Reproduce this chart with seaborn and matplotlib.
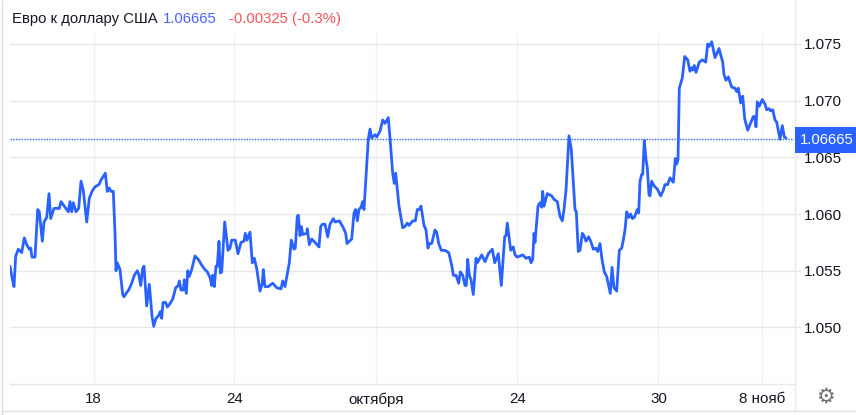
import matplotlib
matplotlib.use('Agg')
import matplotlib.pyplot as plt
from matplotlib.lines import Line2D
from matplotlib.patches import Rectangle
import numpy as np
import seaborn as sns

title_name = 'Евро к доллару США'
last_price = 1.06665
change_text = '-0.00325 (-0.3%)'

# bar number / price
bars_a = [0, 2, 4, 5.7, 8.3, 11.7, 14.3, 16.7, 19.3, 20.7,
          22, 25, 27.7, 29.3, 32.3, 34, 36.7, 39, 40.7, 44,
          49.3, 51, 55, 58.3, 60, 61.7, 63.3, 66, 68.7, 71,
          73.3, 76.7, 79.3, 82, 85, 89, 91, 95.3, 97.3, 99.3,
          101, 103.3, 105, 106, 107.3, 110, 112.7, 114, 116, 118.7,
          121.7, 124.3, 127.3, 128.7, 130.7, 132.7, 134, 136.7, 139.3, 142,
          143.7, 146, 148.3, 150.3, 151.7, 153, 155.7, 157.3, 160, 162.7]
price_a = [1.0554, 1.0544, 1.0536, 1.0563, 1.0569, 1.0566, 1.0579, 1.0573, 1.0569, 1.0570,
           1.0562, 1.0562, 1.0604, 1.0602, 1.0576, 1.0593, 1.0597, 1.0618, 1.0596, 1.0605,
           1.0605, 1.0611, 1.0606, 1.0602, 1.0611, 1.0602, 1.0610, 1.0602, 1.0605, 1.0629,
           1.0621, 1.0593, 1.0614, 1.0620, 1.0624, 1.0626, 1.0630, 1.0636, 1.0620, 1.0623,
           1.0620, 1.0620, 1.0583, 1.0550, 1.0557, 1.0551, 1.0529, 1.0527, 1.0530, 1.0533,
           1.0539, 1.0546, 1.0550, 1.0547, 1.0537, 1.0552, 1.0554, 1.0519, 1.0538, 1.0510,
           1.0501, 1.0508, 1.0510, 1.0514, 1.0508, 1.0522, 1.0522, 1.0518, 1.0521, 1.0525]

bars_b = [165.7, 168.3, 169.3, 171, 173.3, 174.3, 176.3, 177.7, 179.3, 181.7,
          185, 188.3, 191.7, 194, 197.3, 200, 201.7, 202.7, 204.3, 206,
          207.3, 209, 210.3, 211.7, 214.7, 218, 220, 221.7, 225.3, 228,
          231, 234, 235.3, 237, 240, 242.3, 244.3, 246.7, 250, 252.3,
          253.3, 255, 258.3, 262.7, 266.7, 271, 272.7, 275, 279.3, 281.3,
          284, 285.3, 287.3, 288.3, 290, 291.3, 292.7, 296.7, 297.3, 299.3,
          301.7, 305, 309, 310.7, 312.3, 315, 317.7, 320, 323.3, 325]
price_b = [1.0535, 1.0537, 1.0541, 1.0533, 1.0533, 1.0542, 1.0530, 1.0550, 1.0545, 1.0551,
           1.0563, 1.0560, 1.0555, 1.0552, 1.0549, 1.0544, 1.0537, 1.0546, 1.0536, 1.0554,
           1.0554, 1.0576, 1.0548, 1.0549, 1.0593, 1.0568, 1.0570, 1.0577, 1.0577, 1.0565,
           1.0575, 1.0576, 1.0583, 1.0577, 1.0584, 1.0557, 1.0561, 1.0552, 1.0532, 1.0539,
           1.0551, 1.0536, 1.0536, 1.0539, 1.0535, 1.0534, 1.0541, 1.0536, 1.0557, 1.0577,
           1.0569, 1.0570, 1.0598, 1.0599, 1.0581, 1.0589, 1.0582, 1.0583, 1.0587, 1.0573,
           1.0578, 1.0575, 1.0571, 1.0589, 1.0591, 1.0591, 1.0580, 1.0591, 1.0596, 1.0593]

bars_c = [329.3, 333.3, 335.7, 337, 341.7, 344, 345.7, 347.3, 349, 351,
          352.7, 354, 358.3, 360, 361.7, 365, 366.7, 370, 372.7, 375,
          378.3, 380, 382.7, 384.3, 385.7, 389, 392.7, 395, 397.3, 399,
          402.7, 405.3, 407.3, 409.3, 411, 414, 416, 418, 419.3, 421.7,
          425, 426.7, 428.7, 431.3, 435, 438.7, 441.7, 443.3, 446, 448.7,
          450.3, 452.7, 455, 456.3, 457.7, 459.3, 461, 463.3, 466, 467.3,
          471.7, 475, 478.3, 482.3, 484.7, 488.3, 491.3, 494.7, 496, 497.3]
price_c = [1.0594, 1.0588, 1.0583, 1.0574, 1.0578, 1.0601, 1.0604, 1.0594, 1.0604, 1.0606,
           1.0611, 1.0604, 1.0666, 1.0675, 1.0667, 1.0670, 1.0668, 1.0673, 1.0683, 1.0680,
           1.0685, 1.0667, 1.0636, 1.0627, 1.0636, 1.0607, 1.0588, 1.0589, 1.0592, 1.0590,
           1.0594, 1.0594, 1.0604, 1.0604, 1.0607, 1.0590, 1.0586, 1.0570, 1.0574, 1.0574,
           1.0586, 1.0584, 1.0574, 1.0568, 1.0568, 1.0566, 1.0555, 1.0546, 1.0546, 1.0539,
           1.0549, 1.0546, 1.0537, 1.0537, 1.0560, 1.0546, 1.0542, 1.0529, 1.0561, 1.0557,
           1.0564, 1.0558, 1.0565, 1.0569, 1.0557, 1.0565, 1.0537, 1.0580, 1.0581, 1.0592]

bars_d = [500.7, 503.3, 505, 507.3, 512.7, 516, 519.3, 521, 522.7, 524,
          525, 528, 530, 531.7, 532.7, 534, 537.3, 541.7, 544, 547.3,
          550, 552.3, 554, 556, 559, 561.3, 565, 566.3, 568.3, 570,
          572.3, 574, 576, 578.7, 580.7, 583.3, 585.7, 587.7, 590, 592,
          594.3, 596.7, 600.3, 602, 604, 606.7, 609.3, 611.7, 613.3, 615,
          616.7, 618.7, 620.7, 622.3, 624.3, 627.3, 628.7, 630, 631.7, 632.7,
          634.3, 636, 637.3, 639, 640, 641.7, 644, 647.3, 650.7, 653.3]
price_d = [1.0568, 1.0571, 1.0564, 1.0562, 1.0564, 1.0561, 1.0562, 1.0557, 1.0560, 1.0583,
           1.0575, 1.0607, 1.0610, 1.0606, 1.0620, 1.0607, 1.0618, 1.0616, 1.0613, 1.0611,
           1.0598, 1.0594, 1.0604, 1.0621, 1.0669, 1.0657, 1.0604, 1.0602, 1.0567, 1.0568,
           1.0583, 1.0581, 1.0576, 1.0580, 1.0576, 1.0569, 1.0570, 1.0567, 1.0574, 1.0560,
           1.0549, 1.0545, 1.0530, 1.0553, 1.0535, 1.0532, 1.0568, 1.0570, 1.0577, 1.0586,
           1.0602, 1.0597, 1.0600, 1.0596, 1.0597, 1.0604, 1.0601, 1.0629, 1.0635, 1.0635,
           1.0665, 1.0648, 1.0641, 1.0617, 1.0616, 1.0629, 1.0625, 1.0622, 1.0616, 1.0621]

bars_e = [655, 657.7, 660, 663.3, 665.3, 666.7, 668, 669.3, 672.3, 674.7,
          677.7, 680, 681.7, 682.7, 684.3, 686, 689.3, 692.3, 695.7, 697.7,
          699.3, 701.7, 705, 709, 712.7, 714, 716, 718.3, 721.7, 725,
          726.7, 728.3, 730.7, 732.7, 734.7, 737.7, 740, 743.3, 744.7, 746,
          747.3, 749.3, 752.3, 755, 756.7, 759, 760.7, 762.7, 765, 766.7,
          770, 772.3, 774.3, 776]
price_e = [1.0626, 1.0626, 1.0632, 1.0628, 1.0649, 1.0644, 1.0648, 1.0711, 1.0720, 1.0739,
           1.0736, 1.0726, 1.0729, 1.0727, 1.0731, 1.0725, 1.0734, 1.0736, 1.0734, 1.0750,
           1.0748, 1.0752, 1.0738, 1.0746, 1.0734, 1.0723, 1.0718, 1.0721, 1.0712, 1.0711,
           1.0708, 1.0711, 1.0698, 1.0704, 1.0684, 1.0674, 1.0679, 1.0686, 1.0686, 1.0677,
           1.0699, 1.0695, 1.0701, 1.0697, 1.0692, 1.0693, 1.0691, 1.0692, 1.0683, 1.0681,
           1.0666, 1.0678, 1.0668, 1.0667]

tick_bars = [83.7, 224.3, 365.7, 507.3, 648.5, 752.3]
tick_labels = ['18', '24', 'октября', '24', '30', '8 нояб']
price_ticks = [1.050, 1.055, 1.060, 1.065, 1.070, 1.075]

bars = np.concatenate([bars_a, bars_b, bars_c, bars_d, bars_e])
prices = np.concatenate([price_a, price_b, price_c, price_d, price_e])

W, H = 856, 415
LINE = '#2962ff'
GRID = '#e6e8ee'
TEXT = '#131722'

sns.set_style('white')
plt.rcParams['font.family'] = ['Liberation Sans', 'DejaVu Sans']

fig = plt.figure(figsize=(W / 100, H / 100), dpi=100)
ax = fig.add_axes([10 / W, 1 - 384 / H, 784 / W, 351 / H])

sns.lineplot(x=bars, y=prices, ax=ax, color=LINE, linewidth=2.0, estimator=None, sort=False, zorder=3)
ax.axhline(last_price, color=LINE, linewidth=1, linestyle=(0, (1, 1)), zorder=2)

ax.set_xlim(0, 784)
ax.set_ylim(1.04501, 1.07597)
ax.set_xticks(tick_bars)
ax.set_xticklabels(tick_labels)
ax.set_yticks(price_ticks)
ax.set_yticklabels(['%.3f' % p for p in price_ticks])
ax.yaxis.tick_right()
ax.grid(True, axis='y', color=GRID, linewidth=1)
ax.grid(True, axis='x', color='#f0f1f5', linewidth=1)
ax.tick_params(axis='y', length=5, width=1, color=GRID, labelsize=11, labelcolor=TEXT, pad=2, right=True)
ax.tick_params(axis='x', length=0, labelsize=10.9, labelcolor=TEXT, pad=6)
ax.set_xlabel('')
ax.set_ylabel('')
for name in ['top', 'left', 'right']:
    ax.spines[name].set_visible(False)
ax.spines['bottom'].set_color(GRID)
ax.spines['bottom'].set_linewidth(1)

# panel frame and price scale line
fig.add_artist(Line2D([794.5 / W, 794.5 / W], [1 - 411 / H, 1], color=GRID, linewidth=1))
fig.add_artist(Line2D([1.5 / W, 1.5 / W], [0, 1], color='#dcdcdc', linewidth=1))
fig.add_artist(Line2D([1.5 / W, 1], [1 - 410.5 / H, 1 - 410.5 / H], color='#e2e2e2', linewidth=1))

# last price badge
fig.add_artist(Rectangle((795 / W, 1 - 153 / H), 61 / W, 26 / H, transform=fig.transFigure,
                         facecolor=LINE, edgecolor='none', zorder=5))
fig.text(800 / W, 1 - 140.5 / H, '%.5f' % last_price, color='white', fontsize=10.7, va='center', zorder=6)

# header
fig.text(12 / W, 1 - 19 / H, title_name, color=TEXT, fontsize=10.7, va='center')
fig.text(163 / W, 1 - 19 / H, '%.5f' % last_price, color='#4a62f5', fontsize=10.7, va='center')
fig.text(229 / W, 1 - 19 / H, change_text, color='#f4555a', fontsize=10.7, va='center')

# settings icon
fig.text(825 / W, 1 - 397 / H, '\u2699', color='#6f6f6f', fontsize=15, ha='center', va='center',
         family='DejaVu Sans')

fig.savefig('out.png', dpi=100)
